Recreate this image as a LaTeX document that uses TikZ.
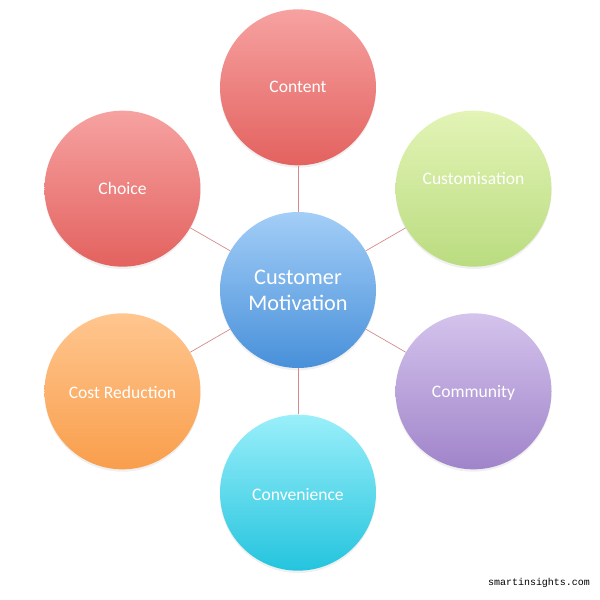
\documentclass[tikz,border=0pt]{standalone}
\usepackage{fontspec}
\setmainfont{Carlito}
\newfontfamily\wmfont{Liberation Mono}
\usetikzlibrary{positioning,shadows}

\definecolor{redtop}{HTML}{F6A2A1}
\definecolor{redbot}{HTML}{E3625F}
\definecolor{greentop}{HTML}{E3F4B6}
\definecolor{greenbot}{HTML}{BADC80}
\definecolor{purpletop}{HTML}{D4C3EC}
\definecolor{purplebot}{HTML}{A084CA}
\definecolor{cyantop}{HTML}{9AEFFA}
\definecolor{cyanbot}{HTML}{24C4DE}
\definecolor{orangetop}{HTML}{FFC68F}
\definecolor{orangebot}{HTML}{F99E4C}
\definecolor{bluetop}{HTML}{A3CEF7}
\definecolor{bluebot}{HTML}{4890DA}
\definecolor{spoke}{HTML}{D58B8B}

\begin{document}
\begin{tikzpicture}
% Style
[
    bubble/.style={
        circle, minimum size=4.68cm, inner sep=0pt, text=white, align=center,
        top color=#1top, bottom color=#1bot, draw=none,
        drop shadow={opacity=.12, shadow xshift=0pt, shadow yshift=-2pt}
    },
    spokeline/.style={draw=spoke, line width=.6pt}
]

%=================================== Start ===================================
\useasboundingbox (-8.94,-9.3) rectangle (9.06,8.7);

\node[bubble=blue, font=\fontsize{19}{22}\selectfont] (motivation) at (0,0) {Customer\\Motivation};

\foreach \ang/\txt/\col/\dy [count=\i] in {%
    90/Content/red/0, 30/Customisation/green/.3, -30/Community/purple/-.05,
    -90/Convenience/cyan/-.05, -150/Cost Reduction/orange/-.03, 150/Choice/red/0%
} {
    \node[bubble=\col, label={[text=white, yshift=\dy cm, font=\fontsize{15}{17}\selectfont]center:\txt}] (bubble-\i) at (\ang:6.08) {};
    \path[spokeline] (motivation) -- (bubble-\i);
}

\node[font=\wmfont\fontsize{8.5}{10}\selectfont, text=black] (watermark) at (7.23,-8.79) {smartinsights.com};
%==================================== END ====================================

\end{tikzpicture}
\end{document}
